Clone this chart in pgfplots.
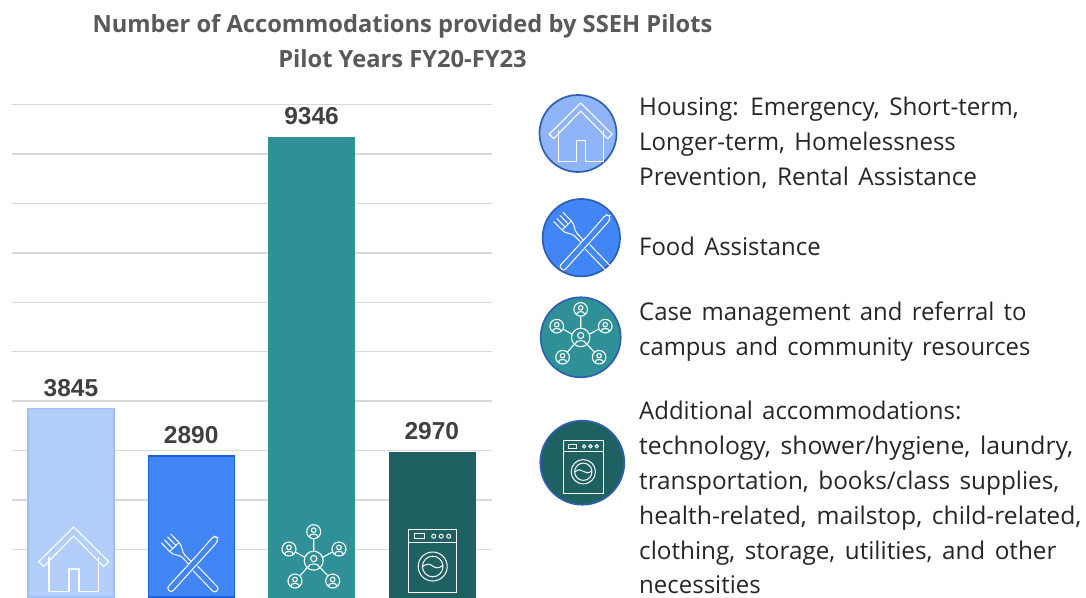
\documentclass[border=0pt]{standalone}
\usepackage{pgfplots}
\usepackage{fontspec}
\setmainfont{Open Sans}
\newfontfamily\barfont{Liberation Sans}
\newfontfamily\legfont[WordSpace=1.5]{Open Sans}
\pgfplotsset{compat=1.18}
\definecolor{gridc}{HTML}{D9D9D9}
\definecolor{tc}{HTML}{595959}
\definecolor{vc}{HTML}{404040}
\definecolor{c1}{HTML}{B3CEFB}
\definecolor{c1b}{HTML}{9DC0FA}
\definecolor{c1c}{HTML}{8FB4F8}
\definecolor{c2}{HTML}{4285F4}
\definecolor{c2b}{HTML}{1A62E0}
\definecolor{c3}{HTML}{2F9098}
\definecolor{c4}{HTML}{1F6063}
\definecolor{ring}{HTML}{2F5FB3}
\newcommand{\house}[3]{\begin{scope}[shift={(#1,#2)},scale=#3,line join=miter,draw=white,line width=1.1pt]
\draw (-35,1.7)--(0,-33)--(35,1.7)--(30,6.5)--(0,-24)--(-30,6.5)--cycle;
\draw (-24.7,-3)--(-24.7,31.7)--(-4.7,31.7)--(-4.7,9)--(5.3,9)--(5.3,31.7)--(25,31.7)--(25,-3);
\end{scope}}
\newcommand{\cutlery}[3]{\begin{scope}[shift={(#1,#2)},scale=#3,draw=white,line width=1pt]
\begin{scope}[rotate=48]
\draw[rounded corners=2.6] (-34,-3)--(12,-2.6)--(36,-3)--(38,1)--(34,3.6)--(-34,3.4)--cycle;
\end{scope}
\begin{scope}[rotate=-46]
\draw[rounded corners=2.6] (5,-3.4)--(36,-3.4)--(36,3)--(5,3);
\draw (-37,-6.5)--(-25,-6.5) (-37,-2.2)--(-25,-2.2) (-37,2.2)--(-25,2.2) (-37,6.5)--(-25,6.5);
\draw[rounded corners=1] (-25,-6.5)--(-25,6.5);
\draw (-25,-6.5) .. controls (-19,-6.5) and (-17,-2) .. (-12,-2)--(-3,-2);
\draw (-25,6.5) .. controls (-19,6.5) and (-17,2) .. (-12,1.5)--(-3,1.5);
\end{scope}
\end{scope}}
\newcommand{\person}[3]{\begin{scope}[shift={(#1,#2)}]
\draw (0,0) circle (#3);
\draw (0,-#3*0.22) circle (#3*0.33);
\draw (-#3*0.62,#3*0.72) .. controls (-#3*0.55,#3*0.2) and (#3*0.55,#3*0.2) .. (#3*0.62,#3*0.72);
\end{scope}}
\newcommand{\network}[3]{\begin{scope}[shift={(#1,#2)},scale=#3,draw=white,line width=1.1pt]
\draw (0,-9.5)--(0,-22) (-9,-3.5)--(-18.3,-8.7) (9,-3.5)--(18.7,-8.7) (-6.5,6.9)--(-13.7,15) (6.5,6.9)--(14,15);
\person{0}{0}{9.5}
\person{0}{-29}{7}
\person{-24.7}{-11.7}{7}
\person{25.3}{-11.7}{7}
\person{-18.7}{20.3}{7}
\person{19}{20.3}{7}
\end{scope}}
\newcommand{\washer}[3]{\begin{scope}[shift={(#1,#2)},scale=#3,draw=white,line width=1pt]
\draw (-24,-31.5) rectangle (24,31.5);
\draw (-24,-18) -- (24,-18);
\draw (-18,-27) rectangle (-8,-22);
\draw (1,-24.3) circle (2) (8.5,-24.3) circle (2) (16,-24.3) circle (2);
\draw (0,6) circle (14.5) (0,6) circle (10.3);
\draw (-10,6) .. controls (-6,3) and (-3,3) .. (0,5.5) .. controls (3,8) and (6,8) .. (10,5);
\end{scope}}
\newcommand{\iconbg}[4]{\draw[ring,line width=1.7pt,fill=#4] (#1,#2) circle (#3);}
\begin{document}
\begin{tikzpicture}[x=1pt,y=-1pt]
\path[use as bounding box] (0,0) rectangle (1086,597);
\begin{scope}
\clip (0,0) rectangle (1086,597);
\begin{axis}[
  at={(12pt,-597pt)},anchor=south west,
  scale only axis,width=480pt,height=492.5pt,
  xmin=-0.49,xmax=3.5,ymin=40,ymax=10000,
  axis line style={draw=none},
  tick style={draw=none},
  scaled y ticks=false,
  xtick=\empty,ytick={1000,2000,...,10000},yticklabels={},
  ymajorgrids,grid style={gridc,line width=1.4pt},
  clip=false,
  bar width=86pt,
  nodes near coords,
  /pgf/number format/assume math mode=true,
  /pgf/number format/1000 sep={},
  every node near coord/.append style={font=\barfont\bfseries\fontsize{24.5}{28}\selectfont,text=vc,yshift=8.5pt},
]
\addplot[ybar,bar shift=0pt,fill=c1,draw=c1b,line width=1.2pt] coordinates {(0,3845)};
\addplot[ybar,bar shift=0pt,fill=c2,draw=c2b,line width=1.2pt] coordinates {(1,2890)};
\addplot[ybar,bar shift=0pt,fill=c3,draw=c3,line width=0.6pt] coordinates {(2,9346)};
\addplot[ybar,bar shift=0pt,fill=c4,draw=c4,line width=0.6pt] coordinates {(3,2970)};
\end{axis}
\house{73.7}{560}{1}
\cutlery{191.7}{565}{1}
\network{313.7}{560.7}{1}
\washer{432.7}{560.5}{1}
\end{scope}
\node[anchor=base,font=\bfseries\fontsize{23.7}{28}\selectfont,text=tc] at (402.5,32) {Number of Accommodations provided by SSEH Pilots};
\node[anchor=base,font=\bfseries\fontsize{23.7}{28}\selectfont,text=tc] at (402.5,67) {Pilot Years FY20-FY23};
\iconbg{578}{133.5}{38.5}{c1c}
\house{580.7}{132.7}{0.9}
\iconbg{581.3}{237.7}{38.7}{c2}
\cutlery{584}{243.5}{1}
\iconbg{580.7}{337.3}{40}{c3}
\network{580.7}{337.5}{0.97}
\iconbg{582.3}{462.7}{42}{c4}
\washer{583.3}{466.7}{0.84}
\foreach \yy/\ss/\tt in {115/0.992/{Housing: Emergency, Short-term,},150/0.984/{Longer-term, Homelessness},185/0.997/{Prevention, Rental Assistance},255/0.978/{Food Assistance},320/0.98/{Case management and referral to},355/0.975/{campus and community resources},419/0.982/{Additional accommodations:},454/1.012/{technology, shower/hygiene, laundry,},489/0.995/{transportation, books/class supplies,},524/1.011/{health-related, mailstop, child-related,},559/0.995/{clothing, storage, utilities, and other},593.5/0.984/{necessities}}
  \node[anchor=base west,inner sep=0pt,xscale=\ss,font=\legfont\fontsize{24.4}{28}\selectfont,text=black!85] at (639,\yy) {\tt};
\end{tikzpicture}
\end{document}
